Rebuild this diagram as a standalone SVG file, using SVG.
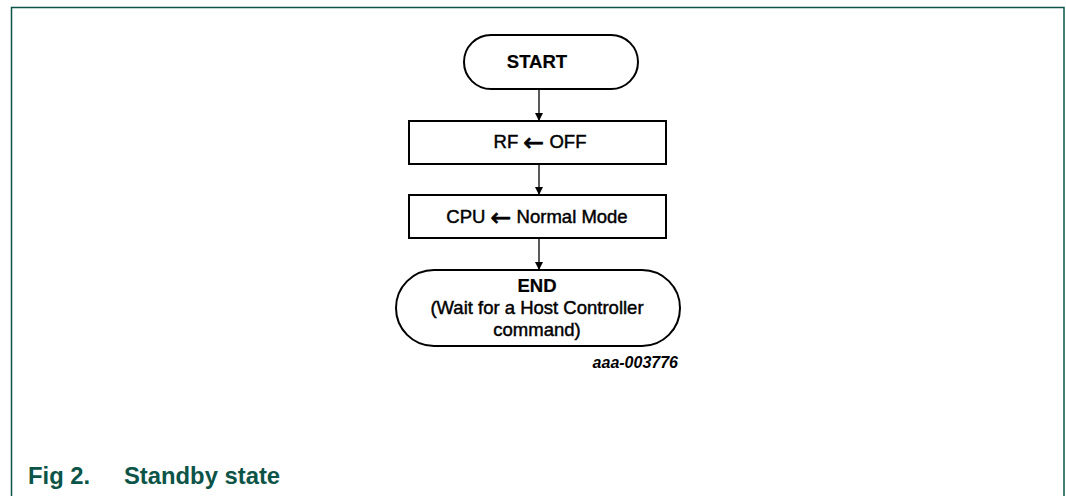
<svg xmlns="http://www.w3.org/2000/svg" width="1066" height="496" viewBox="0 0 1066 496">
<defs>
<style>
.frame{fill:none;stroke:#0b5447;stroke-width:1.5}
.shape{fill:#fff;stroke:#000;stroke-width:2}
.conn{stroke:#000;stroke-width:1.3;fill:none}
.t{font-family:"Liberation Sans",Arial,sans-serif;font-size:18.5px;fill:#000;stroke:#000;stroke-width:0.45;text-anchor:middle}
.b{font-weight:bold;stroke-width:0.2}
.arr{font-family:"DejaVu Sans",sans-serif;font-size:25px;stroke-width:0.6}
.cap{font-family:"Liberation Sans",Arial,sans-serif;font-size:23.8px;font-weight:bold;fill:#0b5447}
</style>
<marker id="ah" viewBox="0 0 10 10" refX="10" refY="5" markerWidth="8" markerHeight="10" markerUnits="userSpaceOnUse" orient="auto">
<path d="M0,0 L10,5 L0,10 z" fill="#000"/>
</marker>
</defs>
<rect width="1066" height="496" fill="#fff"/>
<path class="frame" d="M11.5,496 V7.5 H1064 V496"/>
<g id="connectors">
<line class="conn" x1="539" y1="89" x2="539" y2="121" marker-end="url(#ah)"/>
<line class="conn" x1="539" y1="164" x2="539" y2="195" marker-end="url(#ah)"/>
<line class="conn" x1="539" y1="238" x2="539" y2="270" marker-end="url(#ah)"/>
</g>
<g id="start">
<rect class="shape" x="464" y="35" width="174" height="54" rx="27" ry="27"/>
<text class="t b" x="537" y="68">START</text>
</g>
<g id="rf">
<rect class="shape" x="409" y="121" width="257" height="43"/>
<text class="t" x="540" y="148">RF <tspan class="arr" dy="3">←</tspan><tspan dy="-3"> OFF</tspan></text>
</g>
<g id="cpu">
<rect class="shape" x="409" y="195" width="257" height="43"/>
<text class="t" x="537" y="223">CPU <tspan class="arr" dy="3">←</tspan><tspan dy="-3"> Normal Mode</tspan></text>
</g>
<g id="end">
<rect class="shape" x="396" y="270" width="284" height="76" rx="38" ry="38"/>
<text class="t b" x="537" y="292">END</text>
<text class="t" x="537" y="314">(Wait for a Host Controller</text>
<text class="t" x="537" y="336">command)</text>
</g>
<text x="678" y="368" font-family="Liberation Sans,Arial,sans-serif" font-size="16" font-style="italic" font-weight="bold" text-anchor="end">aaa-003776</text>
<text class="cap" x="28" y="484">Fig 2.</text>
<text class="cap" x="124" y="484">Standby state</text>
</svg>
